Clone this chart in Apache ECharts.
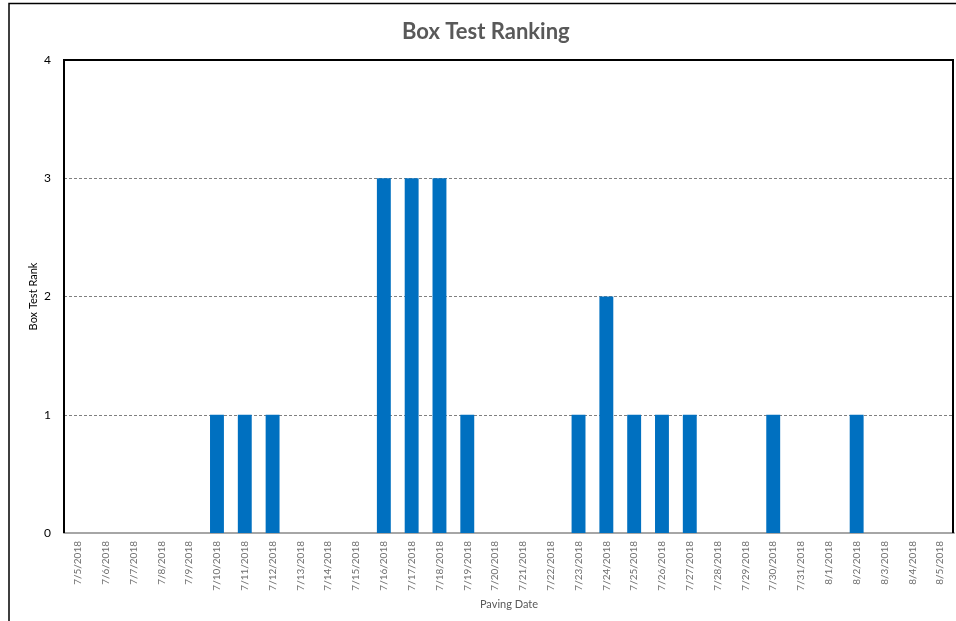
<!DOCTYPE html>
<html>
<head>
<meta charset="utf-8">
<script src="https://cdn.jsdelivr.net/npm/echarts@6/dist/echarts.min.js"></script>
<style>
html, body { margin: 0; padding: 0; background: #fff; }
#chart { width: 956px; height: 621px; }
</style>
</head>
<body>
<div id="chart"></div>
<script>
// paving dates and box test ranks
var dates = ['7/5/2018','7/6/2018','7/7/2018','7/8/2018','7/9/2018','7/10/2018','7/11/2018','7/12/2018',
	'7/13/2018','7/14/2018','7/15/2018','7/16/2018','7/17/2018','7/18/2018','7/19/2018','7/20/2018',
	'7/21/2018','7/22/2018','7/23/2018','7/24/2018','7/25/2018','7/26/2018','7/27/2018','7/28/2018',
	'7/29/2018','7/30/2018','7/31/2018','8/1/2018','8/2/2018','8/3/2018','8/4/2018','8/5/2018'];
var ranks = [0,0,0,0,0,1,1,1,
	0,0,0,3,3,3,1,0,
	0,0,1,2,1,1,1,0,
	0,1,0,0,1,0,0,0];
var yTicks = [0, 1, 2, 3, 4];

var font = "Lato, 'Open Sans', sans-serif";
var chart = echarts.init(document.getElementById('chart'));

var option = {
	animation: false,
	title: {
		text: 'Box Test Ranking',
		left: 397,
		top: 16,
		textStyle: {
			fontFamily: font,
			fontSize: 22,
			fontWeight: 'bold',
			color: '#595959'
		}
	},
	grid: {left: 64, right: 2, top: 60, bottom: 88},
	graphic: [
		{
			type: 'polyline',
			shape: {points: [[9, 621], [9, 3.5], [956, 3.5]]},
			style: {stroke: '#000', lineWidth: 1.5, fill: null}
		},
		{
			type: 'polyline',
			shape: {points: [[64, 533], [64, 60], [953, 60], [953, 533]]},
			style: {stroke: '#000', lineWidth: 2, fill: null},
			z: 10
		}
	],
	xAxis: {
		type: 'category',
		data: dates,
		name: 'Paving Date',
		nameLocation: 'middle',
		nameGap: 66,
		nameMoveOverlap: false,
		nameTextStyle: {fontFamily: font, fontSize: 11, color: '#595959'},
		axisLine: {lineStyle: {color: '#a6a6a6', width: 2}},
		axisTick: {show: false},
		axisLabel: {
			interval: 0,
			rotate: 90,
			margin: 8,
			fontFamily: font,
			fontSize: 10,
			color: '#6f6f6f'
		}
	},
	yAxis: {
		type: 'value',
		min: 0,
		max: yTicks[yTicks.length - 1],
		interval: 1,
		name: 'Box Test Rank',
		nameLocation: 'middle',
		nameGap: 25,
		nameMoveOverlap: false,
		nameTextStyle: {fontFamily: font, fontSize: 11, color: '#000'},
		axisLine: {show: false},
		axisTick: {show: false},
		axisLabel: {
			margin: 13,
			fontFamily: font,
			fontSize: 12,
			color: '#000'
		},
		splitLine: {lineStyle: {color: '#808080', type: [3, 2], width: 1}}
	},
	series: [
		{
			type: 'bar',
			data: ranks,
			barWidth: '50%',
			itemStyle: {color: '#0070C0'}
		}
	]
};

chart.setOption(option);
</script>
</body>
</html>
